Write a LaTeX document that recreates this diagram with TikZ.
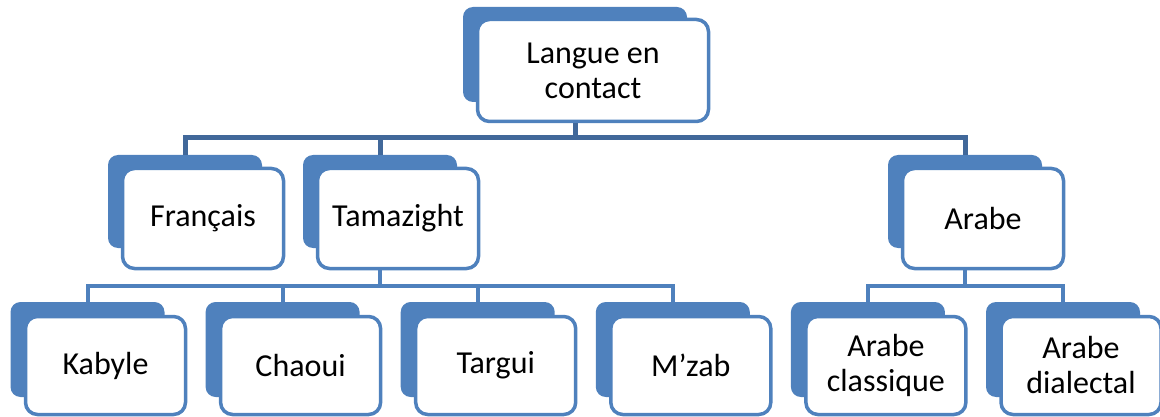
\documentclass[tikz,border=0pt]{standalone}
\usepackage{fontspec}
\setmainfont{Carlito}
\usetikzlibrary{calc}
\definecolor{BoxClr}{RGB}{79,129,189}
\definecolor{BusClr}{RGB}{65,104,154}

\begin{document}
\begin{tikzpicture}[x=1pt,y=-1pt,
  front/.style={draw=BoxClr,line width=3.5pt,fill=white,rounded corners=12pt,
    align=center,inner sep=0pt,font=\fontsize{32}{35}\selectfont},
  back/.style={fill=BoxClr,rounded corners=10pt,inner sep=0pt},
  link/.style={draw=BoxClr,line width=4pt}]
\useasboundingbox (0,0) rectangle (1160,417);

% top box
\node[back,minimum width=224pt,minimum height=95pt] (root-b) at (575,54.5) {};
\node[front,minimum width=231pt,minimum height=102pt] (root) at (593,70.5) {Langue en\\contact};

% second row
\foreach \n/\x/\t in {fr/185/Français,tam/380/Tamazight,ar/965/Arabe}{
  \node[back,minimum width=154pt,minimum height=93pt] (\n-b) at (\x,201.5) {};
  \node[front,minimum width=161pt,minimum height=100pt] (\n) at (\x+18,218.5) {\t};
}

% third row
\foreach \n/\t [count=\i from 0] in {kab/Kabyle,cha/Chaoui,tar/Targui,mz/M’zab,acl/Arabe\\classique,adi/Arabe\\dialectal}{
  \node[back,minimum width=154pt,minimum height=95pt] (\n-b) at (87.5+195.1*\i,349.5) {};
  \node[front,minimum width=160pt,minimum height=98pt] (\n) at (105.5+195.1*\i,365.5) {\t};
}

% connectors
\foreach \c in {fr,tam,ar}
  \draw[link,draw=BusClr,line width=5pt] (root.south -| root-b) -- ++(0,14) -| (\c-b.north);
\foreach \c in {kab,cha,tar,mz}
  \draw[link] (tam.south -| tam-b) -- ++(0,16) -| (\c-b.north);
\foreach \c in {acl,adi}
  \draw[link] (ar.south -| ar-b) -- ++(0,16) -| (\c-b.north);

\end{tikzpicture}
\end{document}
